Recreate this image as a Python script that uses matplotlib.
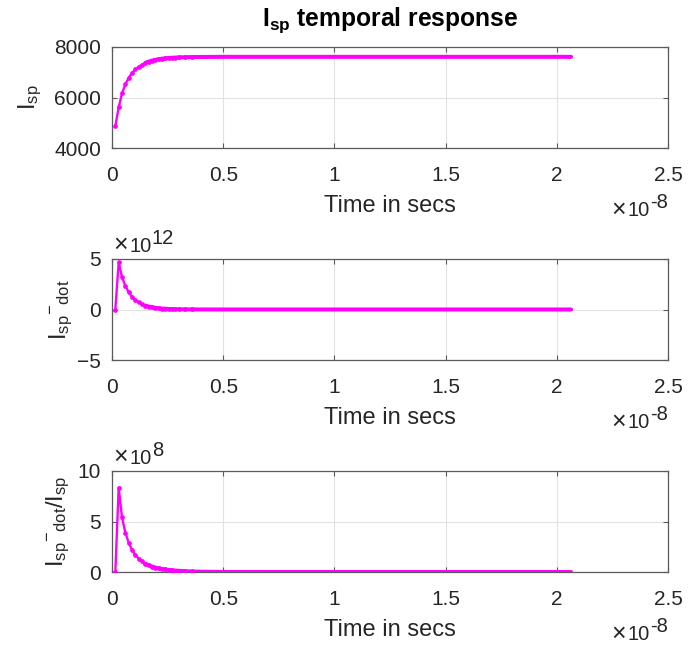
import matplotlib
matplotlib.use("Agg")
import matplotlib.pyplot as plt
import numpy as np

# ---------------- data ----------------
time_s = [1.5e-10, 3.0e-10, 4.5e-10, 6.0e-10, 7.5e-10, 9.0e-10, 1.05e-9, 1.2e-9,
          1.35e-9, 1.5e-9, 1.65e-9, 1.8e-9, 1.95e-9, 2.1e-9, 2.25e-9, 2.4e-9,
          2.55e-9, 2.7e-9, 2.85e-9, 3.0e-9, 3.3e-9, 3.6e-9, 4.0e-9, 4.5e-9,
          5.0e-9, 7.5e-9, 1.0e-8, 1.25e-8, 1.5e-8, 1.75e-8, 2.0e-8, 2.064e-8]

I_sp = [4870, 5610, 6160, 6520, 6780, 6970, 7110, 7220,
        7305, 7370, 7422, 7462, 7494, 7519, 7538, 7553,
        7565, 7574, 7581, 7587, 7596, 7601, 7605, 7608,
        7610, 7610, 7610, 7610, 7610, 7610, 7610, 7610]

I_sp_dot = [0.0, 4.67e12, 3.20e12, 2.35e12, 1.72e12, 1.27e12, 0.94e12, 0.70e12,
            0.52e12, 0.39e12, 0.29e12, 0.22e12, 0.16e12, 0.12e12, 0.09e12, 0.07e12,
            0.05e12, 0.04e12, 0.03e12, 0.02e12, 0.012e12, 0.007e12, 0.004e12, 0.002e12,
            0.001e12, 0.0, 0.0, 0.0, 0.0, 0.0, 0.0, 0.0]

ratio = [0.0, 8.35e8, 5.40e8, 3.90e8, 2.90e8, 2.20e8, 1.70e8, 1.32e8,
         1.04e8, 0.82e8, 0.66e8, 0.54e8, 0.44e8, 0.36e8, 0.30e8, 0.25e8,
         0.21e8, 0.17e8, 0.14e8, 0.12e8, 0.08e8, 0.05e8, 0.03e8, 0.015e8,
         0.005e8, 0.0, 0.0, 0.0, 0.0, 0.0, 0.0, 0.0]

x_ticks = [0, 0.5, 1, 1.5, 2, 2.5]
x_ticklabels = ["0", "0.5", "1", "1.5", "2", "2.5"]
y_ticks_1 = [4000, 6000, 8000]
y_ticks_2 = [-5, 0, 5]
y_ticks_3 = [0, 5, 10]
x_exponent = "-8"
y_exponents = [None, "12", "8"]

# ---------------- style ----------------
plt.rcParams["font.family"] = ["Liberation Sans", "DejaVu Sans"]
plt.rcParams["mathtext.fontset"] = "custom"
plt.rcParams["mathtext.rm"] = "Liberation Sans"
plt.rcParams["mathtext.it"] = "Liberation Sans:italic"
plt.rcParams["mathtext.bf"] = "Liberation Sans:bold"
plt.rcParams["mathtext.sf"] = "Liberation Sans"
plt.rcParams["mathtext.default"] = "regular"

TXT = "#262626"
AX = "#5a5a5a"
MAG = "#ff00ff"
EXP_FS = 14.5
TIMES_FS = 18
RAISE = 8.5  # px

fig = plt.figure(figsize=(6.88, 6.46), dpi=100)
fig.patch.set_facecolor("white")

W = 556 / 688
H = 101 / 646
L = 112 / 688
bottoms = [1 - 148 / 646, 1 - 360 / 646, 1 - 572 / 646]

t = np.array(time_s) / 1e-8
series = [np.array(I_sp), np.array(I_sp_dot) / 1e12, np.array(ratio) / 1e8]
yticks = [y_ticks_1, y_ticks_2, y_ticks_3]
ylims = [(4000, 8000), (-5, 5), (0, 10)]
ylabels = [r"I$_{sp}$", r"I$_{sp}{}^{-}{}_{dot}$", r"I$_{sp}{}^{-}{}_{dot}$/I$_{sp}$"]
ylabel_x = [-0.122, -0.0665, -0.072]

axes = []
for i in range(3):
    ax = fig.add_axes([L, bottoms[i], W, H])
    axes.append(ax)
    ax.set_axisbelow(True)
    ax.grid(True, color="#e2e2e2", lw=0.8)
    y = series[i]
    ax.plot(t, y, color=MAG, lw=1.7, marker="o", ms=3.4, mew=0,
            markevery=slice(0, 22), zorder=3)
    ax.plot(t[9:], y[9:], color=MAG, lw=2.9, solid_capstyle="round", zorder=3)
    ax.set_xlim(0, 2.5)
    ax.set_ylim(*ylims[i])
    ax.set_xticks(x_ticks)
    ax.set_xticklabels(x_ticklabels)
    ax.set_yticks(yticks[i])
    for s in ax.spines.values():
        s.set_color(AX)
        s.set_linewidth(0.9)
    ax.tick_params(axis="both", direction="in", length=3.6, width=0.8,
                   color=AX, labelcolor=TXT, labelsize=15,
                   top=True, right=True)
    ax.tick_params(axis="x", pad=13)
    ax.tick_params(axis="y", pad=8)
    ax.set_xlabel("Time in secs", fontsize=17, color=TXT, va="top")
    ax.xaxis.set_label_coords(0.5, -0.47)
    ax.set_ylabel(ylabels[i], fontsize=17, color=TXT)
    ax.yaxis.set_label_coords(ylabel_x[i], 0.5)
    if i == 0:
        ax.set_title(r"$\mathbf{I_{sp}}$ temporal response", fontsize=17.7,
                     fontweight="bold", color="black", pad=15.5)

fig.canvas.draw()
renderer = fig.canvas.get_renderer()


def power_label(ax, anchor_xy, exponent, dy, align):
    pieces = [("\u00d7", TIMES_FS, 0, 1.5), ("10", EXP_FS, 0, 0.5),
              (exponent, EXP_FS, RAISE, 0)]
    texts = []
    widths = []
    for s, fs, rz, gap in pieces:
        a = ax.annotate(s, xy=anchor_xy, xycoords="axes fraction",
                        xytext=(0, dy + rz), textcoords="offset pixels",
                        ha="left", va="baseline", fontsize=fs, color=TXT)
        texts.append((a, rz, gap))
        widths.append(a.get_window_extent(renderer).width)
    total = sum(widths) + sum(p[3] for p in pieces)
    x = 1 if align == "left" else -total
    for (a, rz, gap), w in zip(texts, widths):
        a.xyann = (x, dy + rz)
        x += w + gap


for i, ax in enumerate(axes):
    power_label(ax, (1.0, 0.0), x_exponent, -68.5, "right")
    if y_exponents[i] is not None:
        power_label(ax, (0.0, 1.0), y_exponents[i], 6.7, "left")

fig.savefig("out.png", dpi=100, facecolor="white")
